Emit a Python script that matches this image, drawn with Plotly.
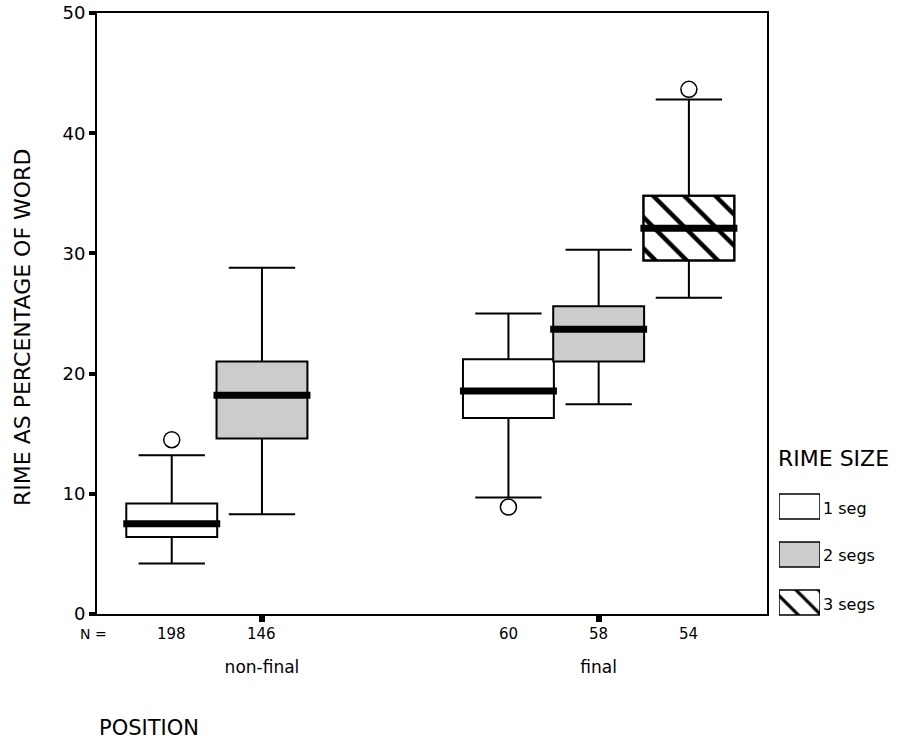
import plotly.graph_objects as go

# ---- data ----
positions = ["non-final", "final"]
sizes = ["1 seg", "2 segs", "3 segs"]
# per size: values for [non-final, final] (None = no box)
q1_vals = {"1 seg": [6.4, 16.3], "2 segs": [14.6, 21.0], "3 segs": [None, 29.4]}
med_vals = {"1 seg": [7.5, 18.55], "2 segs": [18.2, 23.7], "3 segs": [None, 32.1]}
q3_vals = {"1 seg": [9.2, 21.2], "2 segs": [21.0, 25.6], "3 segs": [None, 34.8]}
lo_vals = {"1 seg": [4.2, 9.7], "2 segs": [8.3, 17.45], "3 segs": [None, 26.3]}
hi_vals = {"1 seg": [13.2, 25.0], "2 segs": [28.8, 30.3], "3 segs": [None, 42.8]}
outliers = {"1 seg": [[14.5], [8.9]], "2 segs": [[], []], "3 segs": [[], [43.65]]}
n_vals = {"1 seg": [198, 60], "2 segs": [146, 58], "3 segs": [None, 54]}
y_ticks = [0, 10, 20, 30, 40, 50]

# ---- style ----
fills = {"1 seg": "white", "2 segs": "#cccccc", "3 segs": "white"}
hatched = {"1 seg": False, "2 segs": False, "3 segs": True}
SLOT = 0.268
BOXW = 0.27
FONT = "DejaVu Sans"

W, H = 900, 742
ML, MR, MT, MB = 97, 0, 13, 100
PW = W - ML - MR
PH = H - MT - MB


def px2x(px):
    return (px - ML) / PW


def px2y(py):
    return (H - MB - py) / PH


fig = go.Figure()

for k, s in enumerate(sizes):
    xs, q1, md, q3, lo, hi = [], [], [], [], [], []
    for ci, p in enumerate(positions):
        if q1_vals[s][ci] is None:
            continue
        xs.append(ci + (k - 1) * SLOT)
        q1.append(q1_vals[s][ci]); md.append(med_vals[s][ci]); q3.append(q3_vals[s][ci])
        lo.append(lo_vals[s][ci]); hi.append(hi_vals[s][ci])
    if hatched[s]:
        fig.add_trace(go.Bar(
            x=xs, base=q1, y=[b - a for a, b in zip(q1, q3)], width=BOXW,
            marker=dict(color="white", line=dict(color="black", width=2),
                        pattern=dict(shape="\\", fgcolor="black", bgcolor="white",
                                     fgopacity=1, size=22, solidity=0.2)),
            showlegend=False, hoverinfo="skip", xaxis="x", yaxis="y"))
    fig.add_trace(go.Box(
        x=xs, q1=q1, median=md, q3=q3, lowerfence=lo, upperfence=hi,
        width=BOXW, whiskerwidth=0.73, boxpoints=False,
        fillcolor="rgba(0,0,0,0)" if hatched[s] else fills[s],
        line=dict(color="black", width=2), name=s, showlegend=False,
        xaxis="x", yaxis="y"))
    # thick medians
    mx, my = [], []
    for x, m in zip(xs, md):
        mx += [x - BOXW / 2 - 0.009, x + BOXW / 2 + 0.009, None]
        my += [m, m, None]
    fig.add_trace(go.Scatter(x=mx, y=my, mode="lines",
                             line=dict(color="black", width=7),
                             showlegend=False, hoverinfo="skip"))
    # outliers
    ox, oy = [], []
    for ci in range(len(positions)):
        for v in outliers[s][ci]:
            ox.append(ci + (k - 1) * SLOT); oy.append(v)
    if ox:
        fig.add_trace(go.Scatter(x=ox, y=oy, mode="markers",
                                 marker=dict(symbol="circle", size=16, color="white",
                                             line=dict(color="black", width=1.5)),
                                 showlegend=False, hoverinfo="skip"))
    # legend swatch (drawn as bar in a small legend axis)
    fig.add_trace(go.Bar(
        y=[s], x=[1], orientation="h", width=0.52,
        marker=dict(color=fills[s], line=dict(color="black", width=1.5),
                    pattern=dict(shape="\\" if hatched[s] else "", fgcolor="black",
                                 bgcolor="white", fgopacity=1, size=16, solidity=0.2)),
        showlegend=False, hoverinfo="skip", xaxis="x2", yaxis="y2"))


def txt(text, px, py, size, xanchor="center", angle=0):
    return dict(text=text, x=px2x(px), y=px2y(py), xref="paper", yref="paper",
                xanchor=xanchor, yanchor="middle", textangle=angle, showarrow=False,
                font=dict(family=FONT, size=size, color="black"))


ann = [txt("N =", 93, 634, 14)]
for k, s in enumerate(sizes):
    for ci in range(len(positions)):
        if n_vals[s][ci] is None:
            continue
        ann.append(dict(text=str(n_vals[s][ci]), x=ci + (k - 1) * SLOT, y=px2y(634),
                        xref="x", yref="paper", xanchor="center", yanchor="middle",
                        showarrow=False, font=dict(family=FONT, size=15, color="black")))
ann.append(txt("POSITION", 97, 728, 21, xanchor="left"))
ann.append(txt("RIME AS PERCENTAGE OF WORD", 22, 328, 22, angle=-90))
ann.append(txt("RIME SIZE", 776, 458, 22, xanchor="left"))
for s, py in zip(sizes, [508, 555, 604]):
    ann.append(txt(s, 821, py, 16, xanchor="left"))

main_x_end = px2x(767)
fig.update_layout(
    width=W, height=H, margin=dict(l=ML, r=MR, t=MT, b=MB),
    paper_bgcolor="white", plot_bgcolor="white", showlegend=False,
    barmode="overlay", boxmode="overlay",
    font=dict(family=FONT, color="black"),
    xaxis=dict(domain=[0, main_x_end], range=[-0.49, 1.5], tickvals=[0, 1],
               ticktext=positions, ticks="outside", ticklen=6, tickwidth=6,
               tickcolor="black", showline=True, linecolor="black", linewidth=2,
               mirror=True, showgrid=False, zeroline=False,
               ticklabelstandoff=31, tickfont=dict(size=17, family=FONT)),
    yaxis=dict(domain=[px2y(614), 1], range=[0, 50], tickvals=y_ticks,
               ticks="outside", ticklen=6, tickwidth=4, tickcolor="black",
               showline=True, linecolor="black", linewidth=2, mirror=True,
               showgrid=False, zeroline=False, tickfont=dict(size=18, family=FONT)),
    xaxis2=dict(domain=[px2x(779), px2x(820)], range=[0, 1], visible=False,
                anchor="y2", fixedrange=True),
    yaxis2=dict(domain=[px2y(626.5), px2y(482.5)], type="category",
                categoryorder="array", categoryarray=sizes, range=[2.5, -0.5],
                visible=False, anchor="x2"),
    annotations=ann,
)

fig.write_html("out.html", config={"displayModeBar": False},
               post_script="document.body.style.margin='0';")
